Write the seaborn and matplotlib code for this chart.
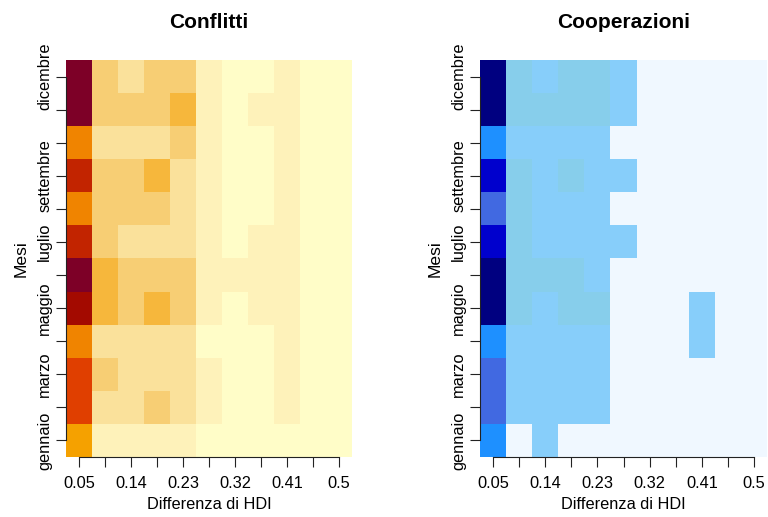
import numpy as np
import pandas as pd
import matplotlib
matplotlib.use("Agg")
import matplotlib.pyplot as plt
from matplotlib.colors import ListedColormap
import seaborn as sns

# ---------------- data ----------------
mesi = ["gennaio", "febbraio", "marzo", "aprile", "maggio", "giugno",
        "luglio", "agosto", "settembre", "ottobre", "novembre", "dicembre"]
mesi_etichettati = ["gennaio", "marzo", "maggio", "luglio", "settembre", "dicembre"]
differenza_hdi = [0.05, 0.095, 0.14, 0.185, 0.23, 0.275, 0.32, 0.365, 0.41, 0.455, 0.5]
x_etichettati = [0.05, 0.14, 0.23, 0.32, 0.41, 0.5]

# colour class of each cell, one list per month (gennaio ... dicembre), 11 HDI bins
conflitti = [
    [5, 1, 1, 1, 1, 0, 0, 0, 0, 0, 0],    # gennaio
    [7, 2, 2, 3, 2, 1, 0, 0, 1, 0, 0],    # febbraio
    [7, 3, 2, 2, 2, 1, 0, 0, 1, 0, 0],    # marzo
    [6, 2, 2, 2, 2, 0, 0, 0, 1, 0, 0],    # aprile
    [9, 4, 3, 4, 3, 1, 0, 1, 1, 0, 0],    # maggio
    [10, 4, 3, 3, 3, 1, 1, 1, 1, 0, 0],   # giugno
    [8, 3, 2, 2, 2, 1, 0, 1, 1, 0, 0],    # luglio
    [6, 3, 3, 3, 2, 1, 0, 0, 1, 0, 0],    # agosto
    [8, 3, 3, 4, 2, 1, 0, 0, 1, 0, 0],    # settembre
    [6, 2, 2, 2, 3, 1, 0, 0, 1, 0, 0],    # ottobre
    [10, 3, 3, 3, 4, 1, 0, 1, 1, 0, 0],   # novembre
    [10, 3, 2, 3, 3, 1, 0, 0, 1, 0, 0],   # dicembre
]
cooperazioni = [
    [3, 0, 1, 0, 0, 0, 0, 0, 0, 0, 0],    # gennaio
    [4, 1, 1, 1, 1, 0, 0, 0, 0, 0, 0],    # febbraio
    [4, 1, 1, 1, 1, 0, 0, 0, 0, 0, 0],    # marzo
    [3, 1, 1, 1, 1, 0, 0, 0, 1, 0, 0],    # aprile
    [6, 2, 1, 2, 2, 0, 0, 0, 1, 0, 0],    # maggio
    [6, 2, 2, 2, 1, 0, 0, 0, 0, 0, 0],    # giugno
    [5, 2, 1, 1, 1, 1, 0, 0, 0, 0, 0],    # luglio
    [4, 2, 1, 1, 1, 0, 0, 0, 0, 0, 0],    # agosto
    [5, 2, 1, 2, 1, 1, 0, 0, 0, 0, 0],    # settembre
    [3, 1, 1, 1, 1, 0, 0, 0, 0, 0, 0],    # ottobre
    [6, 2, 2, 2, 2, 1, 0, 0, 0, 0, 0],    # novembre
    [6, 2, 1, 2, 2, 1, 0, 0, 0, 0, 0],    # dicembre
]

colori_conflitti = ["#FFFDC8", "#FEF2BA", "#FAE19B", "#F7CE74", "#F6B73C", "#F5A100",
                    "#F08400", "#E03F00", "#C22400", "#A30A00", "#7D0027"]
colori_cooperazioni = ["#F0F8FF", "#87CEFA", "#87CEEB", "#1E90FF", "#4169E1",
                       "#0000CD", "#000080"]

# ---------------- style ----------------
sns.set_theme(style="white")
plt.rcParams["font.family"] = ["Liberation Sans", "DejaVu Sans"]

W, H = 768, 517
fig = plt.figure(figsize=(W / 100, H / 100), dpi=100)
ax1 = fig.add_axes([66 / W, 60 / H, 286 / W, 397 / H])
ax2 = fig.add_axes([480 / W, 60 / H, 287 / W, 397 / H])


def pannello(ax, valori, colori, titolo):
    df = pd.DataFrame(valori, index=mesi, columns=differenza_hdi).iloc[::-1]
    cmap = ListedColormap(colori)
    sns.heatmap(df, ax=ax, cmap=cmap, vmin=-0.5, vmax=len(colori) - 0.5,
                cbar=False, linewidths=0)
    ax.set_xlim(0, len(differenza_hdi))
    ax.set_ylim(len(mesi), 0)

    xt = np.arange(len(differenza_hdi)) + 0.5
    ax.set_xticks(xt)
    ax.set_xticklabels([f"{v:g}" if any(abs(v - e) < 1e-9 for e in x_etichettati) else ""
                        for v in differenza_hdi], rotation=0)
    righe = list(df.index)
    yt = np.arange(len(righe)) + 0.5
    ax.set_yticks(yt)
    ax.set_yticklabels([m if m in mesi_etichettati else "" for m in righe],
                       rotation=90, va="center")

    ax.tick_params(axis="both", which="both", direction="out", length=7, width=0.8,
                   color="#222222", labelsize=11.8, labelcolor="black",
                   left=True, bottom=True)
    ax.tick_params(axis="x", pad=6.5)
    ax.tick_params(axis="y", pad=3)

    for s in ["left", "bottom"]:
        ax.spines[s].set_visible(True)
        ax.spines[s].set_color("#222222")
        ax.spines[s].set_linewidth(0.8)
    for s in ["top", "right"]:
        ax.spines[s].set_visible(False)
    ax.spines["left"].set_bounds(yt[0], yt[-1])
    ax.spines["bottom"].set_bounds(xt[0], xt[-1])

    ax.set_xlabel("Differenza di HDI", fontsize=11.8, color="black")
    ax.xaxis.label.set_va("center")
    ax.xaxis.set_label_coords(0.5, -0.119)
    ax.set_ylabel("Mesi", fontsize=12.6, color="black")
    ax.yaxis.label.set_va("center")
    ax.yaxis.set_label_coords(-45 / 286, 0.5)

    ax.set_title(titolo, fontsize=15, fontweight="bold", pad=23, color="black")


pannello(ax1, conflitti, colori_conflitti, "Conflitti")
pannello(ax2, cooperazioni, colori_cooperazioni, "Cooperazioni")

fig.savefig("out.png", dpi=100, facecolor="white")
